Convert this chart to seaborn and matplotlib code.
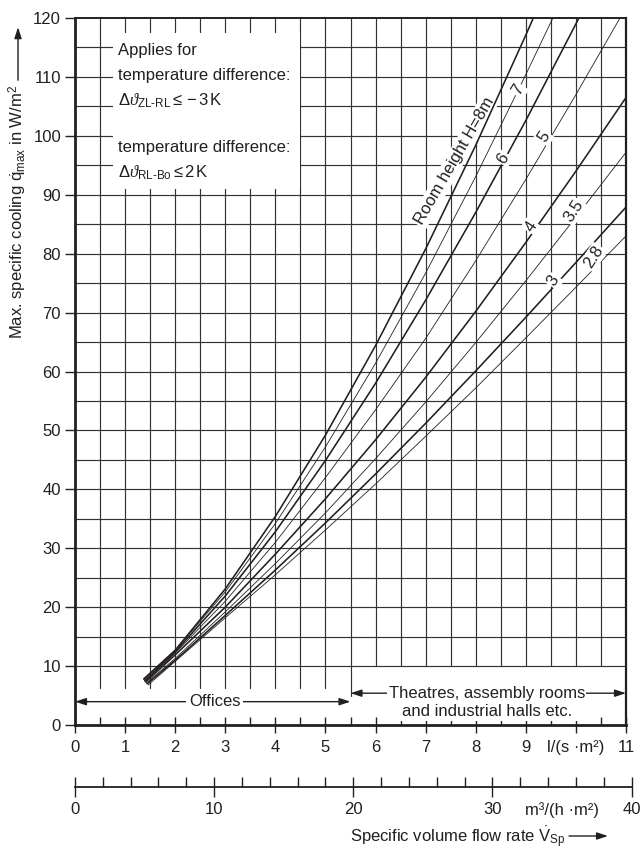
import numpy as np
import pandas as pd
import seaborn as sns
import matplotlib.pyplot as plt
from matplotlib import font_manager
from matplotlib.patches import Rectangle

# room heights H in m, thick lines are the labelled main curves
heights = [8, 7, 6, 5, 4, 3.5, 3, 2.8]
thick = [True, False, True, False, True, False, True, False]

# specific volume flow rate l/(s m2) -> max. specific cooling W/m2
x_h8 = [1.37, 2, 3, 4, 5, 6, 7, 8, 9, 9.15]
y_h8 = [7.8, 12.7, 23.1, 35.4, 49.2, 64.4, 80.8, 98.4, 117.1, 120]
x_h7 = [1.38, 2, 3, 4, 5, 6, 7, 8, 9, 9.54]
y_h7 = [7.7, 12.6, 22.6, 34.2, 47.2, 61.4, 76.7, 93.1, 110.4, 120]
x_h6 = [1.39, 2, 3, 4, 5, 6, 7, 8, 9, 10, 10.06]
y_h6 = [7.5, 12.4, 21.9, 32.8, 44.9, 58.0, 72.1, 87.0, 102.6, 119.0, 120]
x_h5 = [1.40, 2, 3, 4, 5, 6, 7, 8, 9, 10, 10.88]
y_h5 = [7.4, 12.2, 21.0, 31.0, 42.0, 53.5, 65.6, 78.8, 92.6, 107.0, 120]
x_h4 = [1.41, 2, 3, 4, 5, 6, 7, 8, 9, 10, 11]
y_h4 = [7.3, 11.9, 20.0, 29.0, 38.4, 48.4, 59.0, 70.2, 81.9, 94.0, 106.5]
x_h35 = [1.42, 2, 3, 4, 5, 6, 7, 8, 9, 10, 11]
y_h35 = [7.1, 11.3, 19.2, 27.4, 36.0, 45.2, 54.8, 64.9, 75.4, 86.2, 97.2]
x_h3 = [1.44, 2, 3, 4, 5, 6, 7, 8, 9, 10, 11]
y_h3 = [7.0, 11.0, 18.6, 26.3, 34.3, 42.6, 51.2, 60.1, 69.2, 78.5, 87.9]
x_h28 = [1.46, 2, 3, 4, 5, 6, 7, 8, 9, 10, 11]
y_h28 = [6.8, 10.8, 18.2, 25.5, 33.1, 40.9, 49.0, 57.2, 65.7, 74.3, 83.0]

curve_x = [x_h8, x_h7, x_h6, x_h5, x_h4, x_h35, x_h3, x_h28]
curve_y = [y_h8, y_h7, y_h6, y_h5, y_h4, y_h35, y_h3, y_h28]

# curve labels sitting on the lines
label_text = ["7", "6", "5", "4", "3.5", "3", "2.8"]
label_x = [8.85, 8.55, 9.36, 9.11, 9.95, 9.55, 10.35]
label_y = [107.8, 96.2, 99.8, 84.6, 87.2, 75.4, 79.4]

x_ticks = list(range(12))
x_tick_labels = ["0", "1", "2", "3", "4", "5", "6", "7", "8", "9", "l/(s \u00b7m\u00b2)", "11"]
y_ticks = list(range(0, 121, 10))
x2_ticks = [0, 10, 20, 30, 35, 40]
x2_tick_labels = ["0", "10", "20", "30", "m\u00b3/(h \u00b7m\u00b2)", "40"]

names = {f.name for f in font_manager.fontManager.ttflist}
narrow = "Liberation Sans Narrow" in names
FONT = "Liberation Sans Narrow" if narrow else "Liberation Sans"
FS = 13.5 if narrow else 12

sns.set_theme(style="white")
plt.rcParams["font.family"] = [FONT, "DejaVu Sans"]
plt.rcParams["mathtext.fontset"] = "custom"
plt.rcParams["mathtext.rm"] = FONT
plt.rcParams["mathtext.it"] = "Liberation Serif:italic"
plt.rcParams["mathtext.bf"] = FONT + ":bold"

ink = "#231f20"
grid_ink = "#333333"
hy = "\u2010"  # plain hyphen inside the subscripts

df = pd.concat(
    [pd.DataFrame({"x": xs, "y": ys, "H": h}) for h, xs, ys in zip(heights, curve_x, curve_y)],
    ignore_index=True,
)

fig = plt.figure(figsize=(6.41, 8.5), dpi=100)
ax = fig.add_axes([75 / 641, 1 - 725 / 850, 551 / 641, 707 / 850])
ax.set_xlim(0, 11)
ax.set_ylim(0, 120)

# grid drawn by hand: it stops above the annotation band at the bottom
for xv in np.arange(0.5, 11, 0.5):
    lo = 6.3 if xv < 5.5 else (5.0 if xv == 5.5 else 10)
    ax.axvline(xv, ymin=lo / 120, ymax=1, color=grid_ink, lw=0.85, zorder=1)
for yv in range(10, 120, 5):
    ax.axhline(yv, color=grid_ink, lw=0.85, zorder=1)

# white note box
ax.add_patch(Rectangle((0.75, 91), 3.75, 26.5, facecolor="white", edgecolor="none", zorder=2))
note_kw = dict(ha="left", va="center", fontsize=FS, color=ink, zorder=3)
ax.text(0.86, 114.5, "Applies for", **note_kw)
ax.text(0.86, 110.3, "temperature difference:", **note_kw)
ax.text(0.86, 106.0, r"$\mathit{\Delta\vartheta}_{\mathrm{ZL" + hy + r"RL}}\leq-3\,\mathrm{K}$", **note_kw)
ax.text(0.86, 98.0, "temperature difference:", **note_kw)
ax.text(0.86, 93.8, r"$\mathit{\Delta\vartheta}_{\mathrm{RL" + hy + r"Bo}}\leq2\,\mathrm{K}$", **note_kw)

sns.lineplot(
    data=df, x="x", y="y", hue="H", size="H",
    palette={h: ink for h in heights},
    sizes={h: (1.15 if t else 0.6) for h, t in zip(heights, thick)},
    estimator=None, sort=False, legend=False, ax=ax, zorder=4,
)

ax.text(7.58, 95.8, "Room height H=8m", rotation=60, ha="center", va="center",
        fontsize=FS, color=ink, zorder=3,
        bbox=dict(facecolor="white", edgecolor="none", pad=1.5))
for t, lx, ly in zip(label_text, label_x, label_y):
    ax.text(lx, ly, t, rotation=57, ha="center", va="center", fontsize=FS, color=ink,
            zorder=5, bbox=dict(facecolor="white", edgecolor="none", pad=1.0))

# usage ranges at the bottom
arrow = dict(arrowstyle="<|-|>,head_length=0.55,head_width=0.18", color=ink, lw=1,
             shrinkA=0, shrinkB=0)
ax.annotate("", xy=(0, 3.96), xytext=(5.5, 3.96), arrowprops=arrow, zorder=3)
ax.text(2.79, 3.96, "Offices", ha="center", va="center", fontsize=FS, color=ink, zorder=4,
        bbox=dict(facecolor="white", edgecolor="none", pad=2))
ax.annotate("", xy=(5.5, 5.4), xytext=(11, 5.4), arrowprops=arrow, zorder=3)
ax.text(8.22, 3.8, "Theatres, assembly rooms\nand industrial halls etc.", ha="center",
        va="center", fontsize=FS, color=ink, linespacing=1.3, zorder=4,
        bbox=dict(facecolor="white", edgecolor="none", pad=1))

ax.set_xticks(x_ticks)
ax.set_xticklabels(x_tick_labels)
ax.set_xticks(np.arange(0.5, 11, 1.0), minor=True)
ax.set_yticks(y_ticks)
ax.tick_params(axis="x", which="major", direction="inout", length=12, width=1, pad=5,
               labelsize=FS, colors=ink, bottom=True)
ax.tick_params(axis="x", which="minor", direction="in", length=6, width=1, colors=ink, bottom=True)
ax.tick_params(axis="y", which="major", direction="out", length=7, width=1, pad=3,
               labelsize=FS, colors=ink, left=True)
for side, w in [("left", 2), ("bottom", 2), ("top", 1.4), ("right", 1.6)]:
    ax.spines[side].set_visible(True)
    ax.spines[side].set_color(ink)
    ax.spines[side].set_linewidth(w)
ax.set_xlabel("")
ax.set_ylabel("")

ax.text(-0.1034, 0.7256, r"Max. specific cooling $\dot{\mathrm{q}}_{\mathrm{max}}$ in W/m$^2$",
        transform=ax.transAxes, rotation=90, ha="center", va="center", fontsize=FS, color=ink)
ax.annotate("", xy=(-0.1034, 0.987), xytext=(-0.1034, 0.912), xycoords="axes fraction",
            arrowprops=dict(arrowstyle="-|>,head_length=0.55,head_width=0.18", color=ink,
                            lw=1, shrinkA=0, shrinkB=0))

# second scale in m3/(h m2)
ax2 = fig.add_axes([75 / 641, 1 - 787 / 850, 556.6 / 641, 0.0001])
ax2.set_xlim(0, 40)
ax2.set_facecolor("none")
for side in ["left", "right", "top"]:
    ax2.spines[side].set_visible(False)
ax2.spines["bottom"].set_color(ink)
ax2.spines["bottom"].set_linewidth(1.3)
ax2.set_yticks([])
ax2.set_xticks(x2_ticks)
ax2.set_xticklabels(x2_tick_labels)
ax2.set_xticks(np.arange(2, 40, 2), minor=True)
ax2.tick_params(axis="x", which="major", direction="inout", length=14, width=1, pad=4,
                labelsize=FS, colors=ink, bottom=True)
ax2.tick_params(axis="x", which="minor", direction="in", length=7, width=1, colors=ink, bottom=True)
ax2.xaxis.get_major_ticks()[4].tick1line.set_visible(False)

fig.text(565 / 641, 13 / 850, r"Specific volume flow rate $\dot{\mathrm{V}}_{\mathrm{Sp}}$",
         ha="right", va="center", fontsize=FS, color=ink)
ax2.annotate("", xy=(608 / 641, 14 / 850), xytext=(569 / 641, 14 / 850),
             xycoords="figure fraction", annotation_clip=False,
             arrowprops=dict(arrowstyle="-|>,head_length=0.55,head_width=0.18",
                             color=ink, lw=1, shrinkA=0, shrinkB=0))

fig.savefig("out.png", dpi=100)
